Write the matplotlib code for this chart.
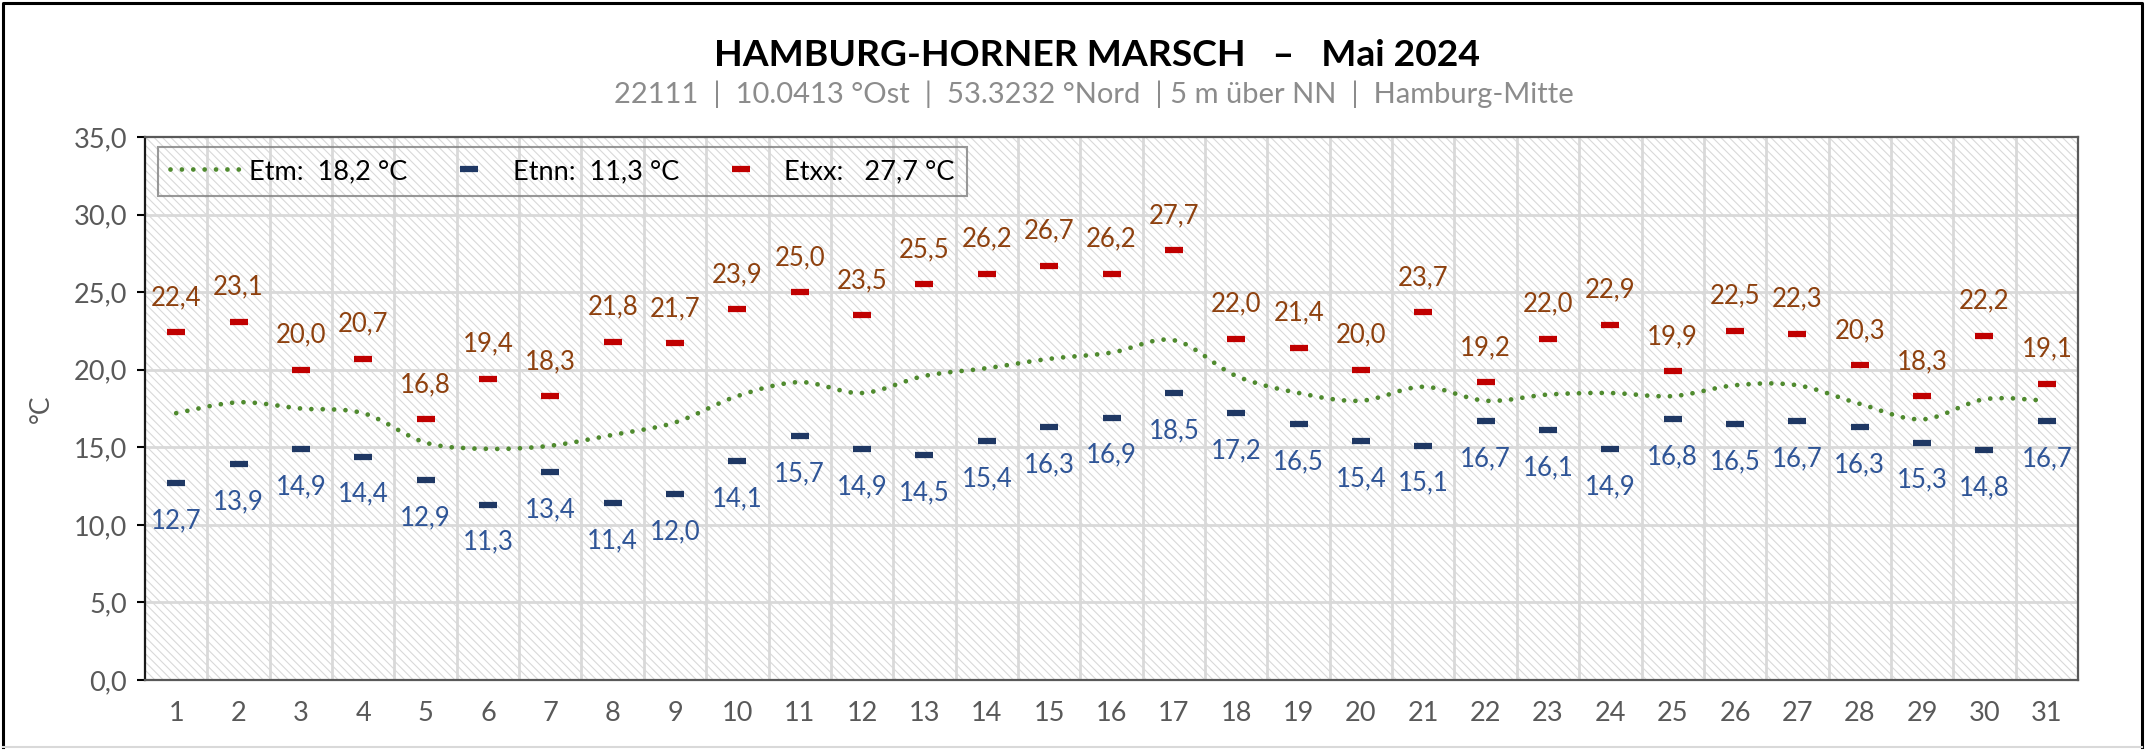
import numpy as np
import matplotlib
matplotlib.use("Agg")
import matplotlib.pyplot as plt
from matplotlib.path import Path
from matplotlib.patches import PathPatch, Rectangle
from matplotlib.lines import Line2D

plt.rcParams['font.family'] = ['Lato', 'DejaVu Sans']
plt.rcParams['hatch.linewidth'] = 0.8

# --- data ---
days = list(range(1, 32))
tmax = [22.4, 23.1, 20.0, 20.7, 16.8, 19.4, 18.3, 21.8, 21.7, 23.9, 25.0, 23.5, 25.5, 26.2, 26.7, 26.2,
        27.7, 22.0, 21.4, 20.0, 23.7, 19.2, 22.0, 22.9, 19.9, 22.5, 22.3, 20.3, 18.3, 22.2, 19.1]
tmin = [12.7, 13.9, 14.9, 14.4, 12.9, 11.3, 13.4, 11.4, 12.0, 14.1, 15.7, 14.9, 14.5, 15.4, 16.3, 16.9,
        18.5, 17.2, 16.5, 15.4, 15.1, 16.7, 16.1, 14.9, 16.8, 16.5, 16.7, 16.3, 15.3, 14.8, 16.7]
tmean = [17.2, 17.9, 17.5, 17.2, 15.3, 14.9, 15.1, 15.8, 16.6, 18.3, 19.2, 18.5, 19.6, 20.1, 20.7, 21.1,
         21.9, 19.6, 18.5, 18.0, 18.9, 18.0, 18.4, 18.5, 18.3, 19.0, 19.0, 17.8, 16.8, 18.1, 18.0]
yticks = [0, 5, 10, 15, 20, 25, 30, 35]
legend_labels = ['Etm:  18,2 °C', 'Etnn:  11,3 °C', 'Etxx:   27,7 °C']
title = 'HAMBURG-HORNER MARSCH   –   Mai 2024'
subtitle = '22111  |  10.0413 °Ost  |  53.3232 °Nord  | 5 m über NN  |  Hamburg-Mitte'

c_green = '#4F8A2E'
c_red = '#C00000'
c_blue = '#1F3864'
c_red_lbl = '#8E410F'
c_blue_lbl = '#2F5597'
c_tick = '#595959'
dot_style = (0, (0.01, 2.4))

fig = plt.figure(figsize=(21.48, 7.5), dpi=100)
ax = fig.add_axes([145 / 2148, 1 - 680 / 750, (2078 - 145) / 2148, (680 - 137) / 750])

# hatched plot background
ax.add_patch(Rectangle((0, 0), 1, 1, transform=ax.transAxes, facecolor='white',
                       edgecolor='#d9d9d9', hatch='\\\\\\\\', lw=0, zorder=0))
ax.set_xlim(0.5, 31.5)
ax.set_ylim(0, 35)

# grid
for x in np.arange(1.5, 31.5, 1):
    ax.axvline(x, color='#d9d9d9', lw=2.0, zorder=1)
for y in yticks[1:-1]:
    ax.axhline(y, color='#d9d9d9', lw=2.0, zorder=1)

# smooth mean line (Bezier through the daily values)
pts = np.column_stack([days, tmean]).astype(float)
n = len(pts)
verts = [pts[0]]
codes = [Path.MOVETO]
for i in range(n - 1):
    p0 = pts[max(i - 1, 0)]
    p1 = pts[i]
    p2 = pts[i + 1]
    p3 = pts[min(i + 2, n - 1)]
    verts += [p1 + (p2 - p0) / 6, p2 - (p3 - p1) / 6, p2]
    codes += [Path.CURVE4] * 3
mean_patch = PathPatch(Path(verts, codes), fill=False, edgecolor=c_green, lw=3.4,
                       linestyle=dot_style, capstyle='round', zorder=3)
ax.add_patch(mean_patch)

ax.plot(days, tmin, ls='none', marker='_', ms=13, mew=4.5, color=c_blue, zorder=4)
ax.plot(days, tmax, ls='none', marker='_', ms=13, mew=4.5, color=c_red, zorder=4)

for d, v in zip(days, tmax):
    ax.annotate(f'{v:.1f}'.replace('.', ','), (d, v), xytext=(0, 25), textcoords='offset points',
                ha='center', va='center', fontsize=18.5, color=c_red_lbl, zorder=5)
for d, v in zip(days, tmin):
    ax.annotate(f'{v:.1f}'.replace('.', ','), (d, v), xytext=(0, -27), textcoords='offset points',
                ha='center', va='center', fontsize=18.5, color=c_blue_lbl, zorder=5)

# axes styling
ax.set_yticks(yticks)
ax.set_yticklabels([f'{t:.1f}'.replace('.', ',') for t in yticks])
ax.set_xticks(days)
ax.set_xticklabels([str(d) for d in days])
ax.tick_params(axis='y', direction='out', length=6, width=1.5, color='black',
               labelsize=19.5, labelcolor=c_tick, pad=7)
ax.tick_params(axis='x', length=0, labelsize=19.5, labelcolor=c_tick, pad=15)
ax.spines['left'].set_color('#1a1a1a')
ax.spines['left'].set_linewidth(1.6)
for s in ['bottom', 'top', 'right']:
    ax.spines[s].set_color('#595959')
    ax.spines[s].set_linewidth(1.6)
ax.set_ylabel('°C', fontsize=19, color=c_tick, labelpad=14)

# legend
handles = [
    Line2D([], [], color=c_green, lw=3.4, linestyle=dot_style, dash_capstyle='round'),
    Line2D([], [], ls='none', marker='_', ms=13, mew=4.5, color=c_blue),
    Line2D([], [], ls='none', marker='_', ms=13, mew=4.5, color=c_red),
]
leg = ax.legend(handles, legend_labels, loc='upper left', bbox_to_anchor=(0.0067, 0.982),
                ncol=3, fontsize=19.5, frameon=True, fancybox=False, handlelength=2.6,
                handletextpad=0.3, columnspacing=1.0, borderpad=0.45, borderaxespad=0)
leg.get_frame().set_edgecolor('#808080')
leg.get_frame().set_linewidth(1.5)
leg.get_frame().set_facecolor('none')
leg.set_zorder(6)

# titles
fig.text(1097 / 2148, 1 - 56 / 750, title, ha='center', va='center',
         fontsize=26.8, fontweight='bold', color='black')
fig.text(1094 / 2148, 1 - 94 / 750, subtitle, ha='center', va='center',
         fontsize=21, color='#8c8c8c')

# outer frame
fig.add_artist(Line2D([3 / 2148, 3 / 2148, 2142 / 2148, 2142 / 2148],
                      [1 - 747 / 750, 1 - 3 / 750, 1 - 3 / 750, 1 - 747 / 750],
                      transform=fig.transFigure, color='black', lw=2.2))
fig.add_artist(Line2D([3 / 2148, 2142 / 2148], [1 - 747 / 750, 1 - 747 / 750],
                      transform=fig.transFigure, color='#d9d9d9', lw=1.5))

fig.savefig('out.png', dpi=100, facecolor='white')
